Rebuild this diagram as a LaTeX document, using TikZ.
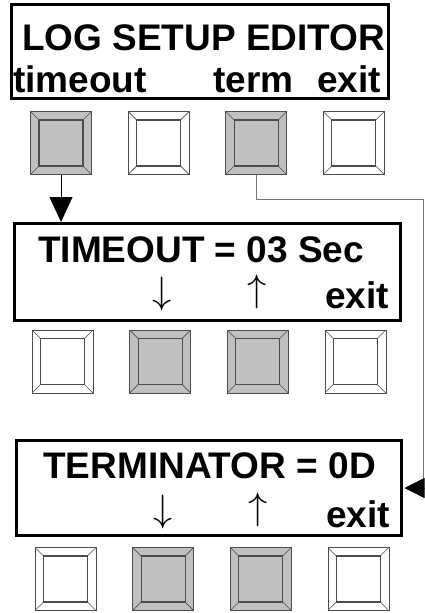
\documentclass[tikz,border=0pt]{standalone}
\usepackage{graphicx}
\usepackage{fontspec}
\setmainfont{Liberation Sans}
\usetikzlibrary{positioning,arrows.meta}
\definecolor{keygray}{RGB}{192,192,192}
\newcommand{\bigkey}[1]{\resizebox*{!}{34pt}{$#1$}}
\tikzset{
panel/.style={
    x=1pt,
    y=-1pt,
    node distance=36pt
},
screen/.style={
    rectangle,
    draw,
    line width=3pt,
    inner sep=0pt
},
legend/.style={
    inner sep=0pt,
    anchor=base west,
    font=\bfseries\fontsize{37}{40}\selectfont
},
updown/.style={
    inner sep=0pt,
    font=\Huge
},
key/.style={
    rectangle,
    draw=black!70,
    line width=0.6pt,
    minimum width=61pt,
    minimum height=63pt,
    inner sep=0pt,
    fill=white,
    path picture={
        \draw[black!70,line width=0.6pt]
            (path picture bounding box.north west) -- ++(8.5pt,-8.5pt)
            (path picture bounding box.north east) -- ++(-8.5pt,-8.5pt)
            (path picture bounding box.south west) -- ++(8.5pt,8.5pt)
            (path picture bounding box.south east) -- ++(-8.5pt,8.5pt);
        \draw[line width=1.2pt]
            ([shift={(8.5pt,-8.5pt)}]path picture bounding box.north west)
            rectangle ([shift={(-8.5pt,8.5pt)}]path picture bounding box.south east);
    }
},
pressed/.style={
    key,
    fill=keygray
},
goes/.style={
    line width=0.9pt,
    -{Triangle[length=25pt,width=23pt]}
},
feeds/.style={
    draw=black!55,
    line width=0.8pt,
    -{Triangle[length=20pt,width=20pt,color=black]}
}}

\begin{document}
\begin{tikzpicture}[panel]
\useasboundingbox (0,0) rectangle (425,613);

% screens
\node    (s1)  [screen, minimum width=377pt, minimum height=94pt] at (200,51.5)  {};
\node    (s2)  [screen, minimum width=386pt, minimum height=97pt] at (207.5,272) {};
\node    (s3)  [screen, minimum width=385pt, minimum height=95pt] at (209,488)   {};

\node    (l1)  [legend] at (22,50)   {LOG SETUP EDITOR};
\node    (k1a) [legend] at (13,92)   {timeout};
\node    (k1c) [legend] at (213,92)  {term};
\node    (k1d) [legend] at (317,92)  {exit};

\node    (l2)  [legend] at (38,262)  {TIMEOUT = 03 Sec};
\node    (k2b) [updown] at (162.5,294) {\bigkey{\downarrow}};
\node    (k2c) [updown] at (257,291.5) {\bigkey{\uparrow}};
\node    (k2d) [legend] at (325,308) {exit};

\node    (l3)  [legend] at (43,478)  {TERMINATOR = 0D};
\node    (k3b) [updown] at (163,512)   {\bigkey{\downarrow}};
\node    (k3c) [updown] at (258,509.5) {\bigkey{\uparrow}};
\node    (k3d) [legend] at (326,527) {exit};

% keys
\node    (b11)  [pressed] at (61,143)   {};
\node    (b12)  [key, right=of b11]     {};
\node    (b13)  [pressed, right=of b12] {};
\node    (b14)  [key, right=of b13]     {};

\node    (b21)  [key] at (62.5,361.5)   {};
\node    (b22)  [pressed, right=of b21] {};
\node    (b23)  [pressed, right=of b22] {};
\node    (b24)  [key, right=of b23]     {};

\node    (b31)  [key] at (65.5,579)     {};
\node    (b32)  [pressed, right=of b31] {};
\node    (b33)  [pressed, right=of b32] {};
\node    (b34)  [key, right=of b33]     {};

\coordinate (jog) at (423.5,199);

\draw    (b11.south)  edge[goes]  (b11.south |- s2.north);
\draw[feeds] (b13.south) |- (jog) |- ([xshift=1.5pt]s3.east);
\end{tikzpicture}
\end{document}
